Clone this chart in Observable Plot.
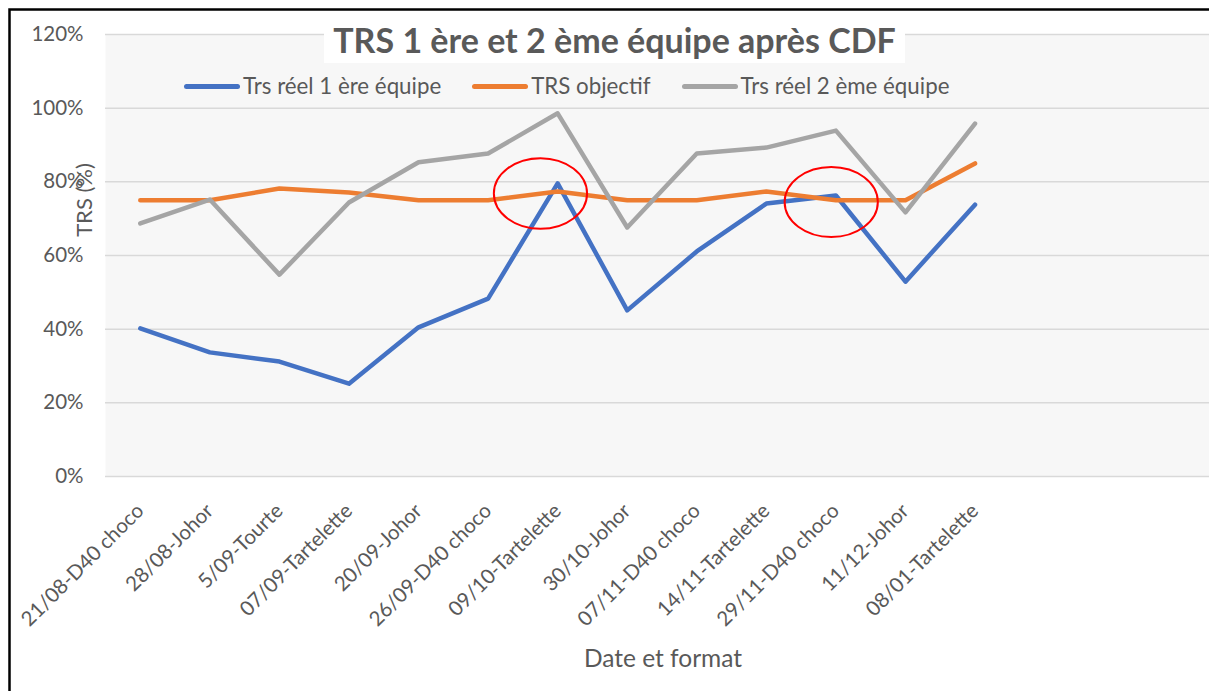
<!DOCTYPE html>
<html>
<head>
<meta charset="utf-8">
<script src="https://cdn.jsdelivr.net/npm/d3@7"></script>
<script src="https://cdn.jsdelivr.net/npm/@observablehq/plot@0.6"></script>
<style>
  html, body { margin: 0; padding: 0; background: #fff; overflow: hidden; }
  #wrap { position: relative; width: 1209px; height: 691px; overflow: hidden; font-family: Lato, "Open Sans", sans-serif; color: #595959; }
  #chart { position: absolute; left: 0; top: 0; width: 1209px; height: 691px; overflow: hidden; }
  #chart svg { max-width: none !important; }
  #title { position: absolute; left: 324px; top: 17px; width: 581px; height: 46px; background: #fff; text-align: center; font-weight: bold; font-size: 34px; line-height: 46px; color: #595959; white-space: nowrap; }
  #legend { position: absolute; left: 184px; top: 72px; display: flex; gap: 31px; font-size: 22.3px; line-height: 28px; color: #595959; white-space: nowrap; }
  .item { display: flex; align-items: center; gap: 3px; }
  .sw { width: 56px; height: 5px; border-radius: 3px; }
  #ytitle { position: absolute; left: 83px; top: 200px; transform: translate(-50%, -50%) rotate(-90deg); font-size: 22px; white-space: nowrap; color: #595959; }
  #xtitle { position: absolute; left: 663px; top: 657px; transform: translate(-50%, -50%); font-size: 24.5px; white-space: nowrap; color: #595959; }
</style>
</head>
<body>
<div id="wrap">
  <div id="chart"></div>
  <div id="title"></div>
  <div id="legend"></div>
  <div id="ytitle"></div>
  <div id="xtitle"></div>
</div>
<script>
// ---- data ----
const titleText = "TRS 1 ère et 2 ème équipe après CDF";
const yTitle = "TRS (%)";
const xTitle = "Date et format";
const categories = ["21/08-D40 choco", "28/08-Johor", "5/09-Tourte", "07/09-Tartelette", "20/09-Johor", "26/09-D40 choco", "09/10-Tartelette", "30/10-Johor", "07/11-D40 choco", "14/11-Tartelette", "29/11-D40 choco", "11/12-Johor", "08/01-Tartelette"];
const trsReel1 = [40.2, 33.7, 31.2, 25.2, 40.5, 48.3, 79.6, 45.1, 61.1, 74.1, 76.3, 52.9, 73.8];
const trsObjectif = [75, 75, 78.2, 77.1, 75, 75, 77.4, 75, 75, 77.4, 75, 75, 85];
const trsReel2 = [68.7, 75.2, 54.8, 74.4, 85.3, 87.7, 98.6, 67.6, 87.7, 89.3, 93.9, 71.7, 95.8];
const seriesNames = ["Trs réel 1 ère équipe", "TRS objectif", "Trs réel 2 ème équipe"];
const seriesColors = ["#4472C4", "#ED7D31", "#A5A5A5"];
const yTicks = [0, 20, 40, 60, 80, 100, 120];
// red ellipses drawn on the chart (centre in category index / %, radii in same units)
const highlights = [
  {x: 5.76, y: 76.7, rx: 0.67, ry: 9.6},
  {x: 9.94, y: 74.4, rx: 0.67, ry: 9.5}
];

// ---- build ----
const seriesValues = [trsReel1, trsObjectif, trsReel2];
const rows = [];
seriesNames.forEach((name, s) => {
  seriesValues[s].forEach((v, i) => rows.push({series: name, i, value: v}));
});

const chart = Plot.plot({
  width: 1218,
  height: 691,
  marginLeft: 105,
  marginRight: 0,
  marginTop: 34,
  marginBottom: 215,
  style: {fontFamily: "Lato, 'Open Sans', sans-serif", fontSize: "20.5px", color: "#595959", background: "transparent", overflow: "visible"},
  x: {type: "linear", domain: [-0.5, 15.5]},
  y: {domain: [0, 120]},
  color: {domain: seriesNames, range: seriesColors},
  marks: [
    Plot.frame({fill: "#F7F7F7", stroke: "none"}),
    Plot.gridY(yTicks, {stroke: "#D9D9D9", strokeOpacity: 1, strokeWidth: 1.5}),
    Plot.axisY(yTicks, {tickSize: 0, tickPadding: 22, tickFormat: d => d + "%", label: null, fill: "#595959"}),
    Plot.axisX(d3.range(categories.length), {tickSize: 0, tickPadding: 31, tickRotate: -45, tickFormat: i => categories[i], label: null, fill: "#595959"}),
    Plot.line(rows, {x: "i", y: "value", z: "series", stroke: "series", strokeWidth: 4.5, strokeLinecap: "round", strokeLinejoin: "round"})
  ]
});

const sx = chart.scale("x"), sy = chart.scale("y");
d3.select(chart).append("g")
  .selectAll("ellipse")
  .data(highlights)
  .join("ellipse")
  .attr("cx", d => sx.apply(d.x))
  .attr("cy", d => sy.apply(d.y))
  .attr("rx", d => Math.abs(sx.apply(d.x + d.rx) - sx.apply(d.x)))
  .attr("ry", d => Math.abs(sy.apply(d.y - d.ry) - sy.apply(d.y)))
  .attr("fill", "none")
  .attr("stroke", "#FF0000")
  .attr("stroke-width", 2);

// outer chart border (only its left and top edges are inside the crop)
d3.select(chart).append("path")
  .attr("d", "M9.5,691V9.5H1218")
  .attr("fill", "none")
  .attr("stroke", "#000")
  .attr("stroke-width", 2.5);

document.getElementById("chart").appendChild(chart);
document.getElementById("title").textContent = titleText;
document.getElementById("ytitle").textContent = yTitle;
document.getElementById("xtitle").textContent = xTitle;

const legend = document.getElementById("legend");
seriesNames.forEach((name, s) => {
  const item = document.createElement("div");
  item.className = "item";
  const sw = document.createElement("span");
  sw.className = "sw";
  sw.style.background = seriesColors[s];
  const label = document.createElement("span");
  label.textContent = name;
  item.appendChild(sw);
  item.appendChild(label);
  legend.appendChild(item);
});
</script>
</body>
</html>
